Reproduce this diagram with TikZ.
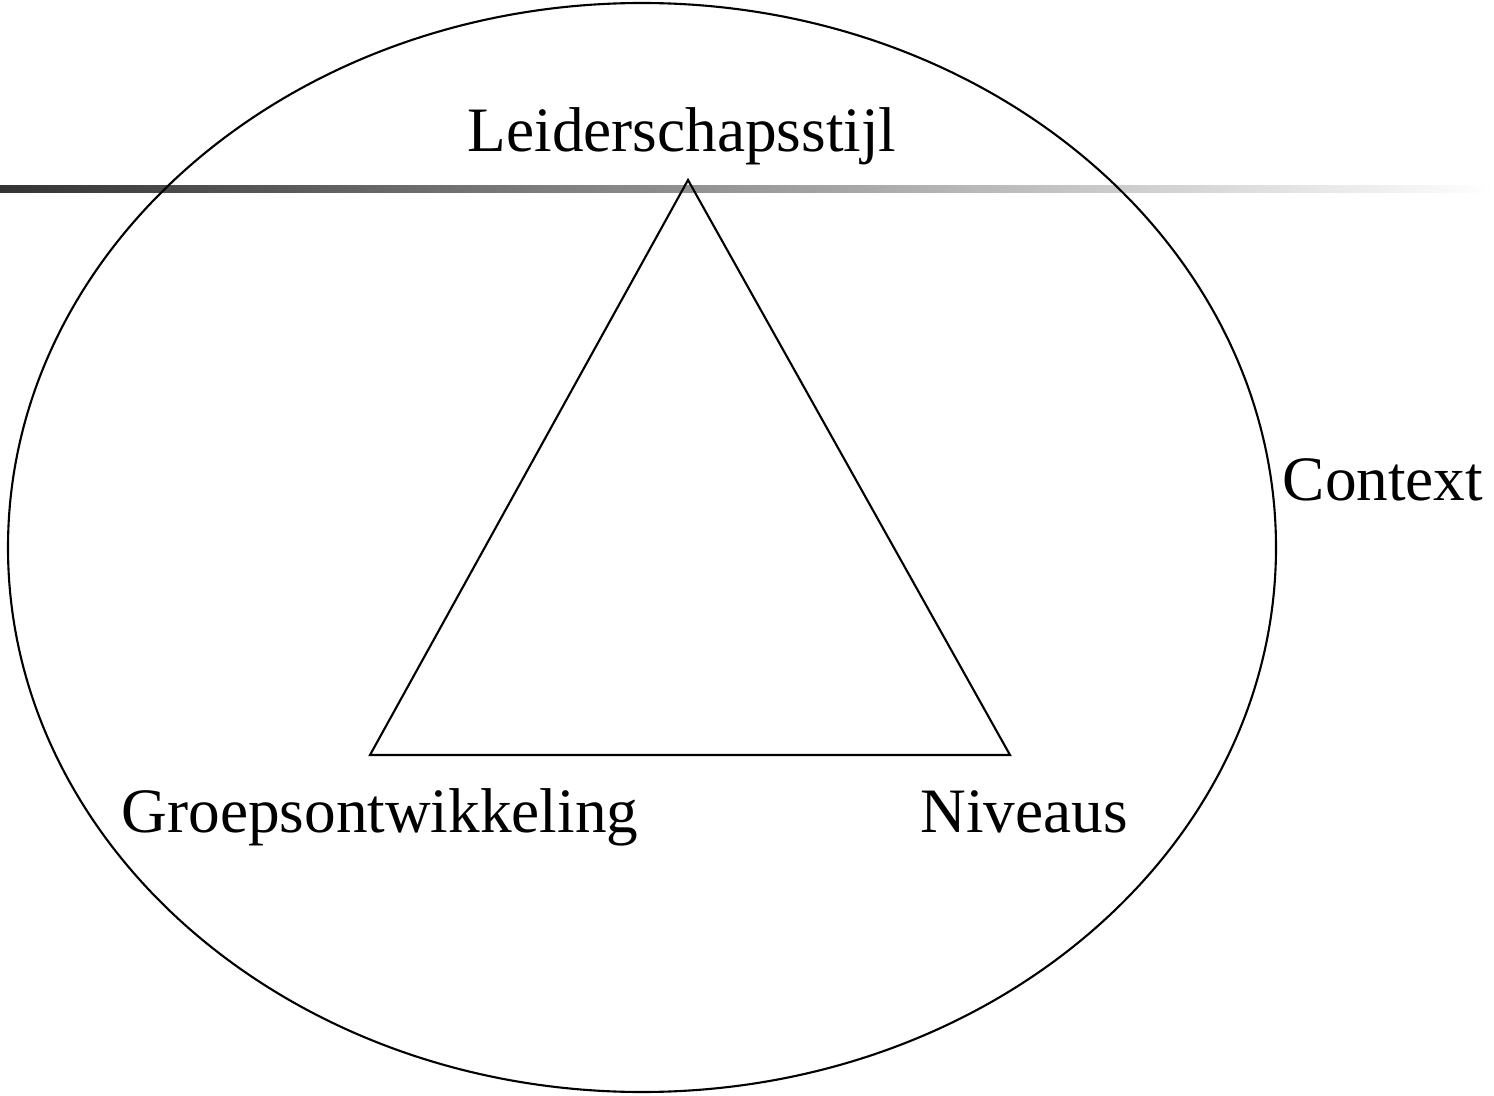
\documentclass[tikz,border=0pt]{standalone}
\usepackage{fontspec}
\setmainfont{Liberation Serif}
\usetikzlibrary{positioning}

\begin{document}
\begin{tikzpicture}[x=0.1mm, y=-0.1mm,
          lbl/.style={anchor=base, inner sep=0pt, font=\fontsize{18}{20}\selectfont},
          edge/.style={draw=black, line width=0.6pt}
        ]
        \useasboundingbox (0,0) rectangle (1494,1096);

        % grey rule across the top
        \shade[left color=black!80, right color=white] (0,186) rectangle (1494,193);

        \draw[edge] (642,547.5) ellipse [x radius=6.34cm, y radius=5.445cm];

        \coordinate (top)   at (688,180);
        \coordinate (left)  at (370,755);
        \coordinate (right) at (1010,755);
        \draw[edge] (top) -- (right) -- (left) -- cycle;

        \node[lbl] (stijl)  at (682,152)  {Leiderschapsstijl};
        \node[lbl] (groep)  at (380,832)  {Groepsontwikkeling};
        \node[lbl] (niveau) at (1024,832) {Niveaus};
        \node[lbl] (ctx)    at (1383,500) {Context};
      \end{tikzpicture}
\end{document}
